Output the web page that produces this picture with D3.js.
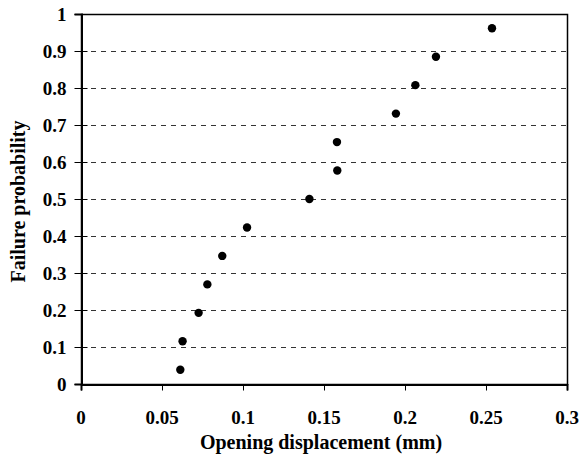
<!DOCTYPE html>
<html>
<head>
<meta charset="utf-8">
<script src="https://cdn.jsdelivr.net/npm/d3@7"></script>
<style>
html, body { margin: 0; padding: 0; background: #fff; }
svg { display: block; }
text { font-family: "Liberation Serif", "Times New Roman", serif; font-weight: bold; fill: #000; }
</style>
</head>
<body>
<svg id="chart" width="584" height="457"></svg>
<script>
const displacement = [0.0613, 0.0627, 0.0726, 0.0780, 0.0872, 0.1025, 0.1410, 0.1582, 0.1580, 0.1944, 0.2064, 0.2191, 0.2537];
const probability  = [0.0385, 0.1154, 0.1923, 0.2692, 0.3462, 0.4231, 0.5000, 0.5769, 0.6538, 0.7308, 0.8077, 0.8846, 0.9615];
const xTicks = [0, 0.05, 0.1, 0.15, 0.2, 0.25, 0.3];
const yTicks = [0, 0.1, 0.2, 0.3, 0.4, 0.5, 0.6, 0.7, 0.8, 0.9, 1];
const xTitle = "Opening displacement (mm)";
const yTitle = "Failure probability";

(function () {
const svg = d3.select("#chart");
const pL = 81, pR = 567, pT = 14, pB = 384;
const x = d3.scaleLinear().domain([0, 0.3]).range([pL, pR]);
const y = d3.scaleLinear().domain([0, 1]).range([pB, pT]);
const fs = 19;

// gridlines
svg.append("g").selectAll("line").data(yTicks.filter(d => d > 0 && d < 1)).join("line")
  .attr("x1", pL).attr("x2", pR)
  .attr("y1", d => y(d) + 0.5).attr("y2", d => y(d) + 0.5)
  .attr("stroke", "#333").attr("stroke-width", 1).attr("stroke-dasharray", "5,5");

// frame
svg.append("rect").attr("x", pL + 0.5).attr("y", pT + 0.5)
  .attr("width", pR - pL).attr("height", pB - pT)
  .attr("fill", "none").attr("stroke", "#000").attr("stroke-width", 1.5);

// axes
const xAxis = svg.append("g").attr("transform", `translate(0,${pB + 0.5})`)
  .call(d3.axisBottom(x).tickValues(xTicks).tickSize(6).tickFormat(() => ""));
const yAxis = svg.append("g").attr("transform", `translate(${pL + 0.5},0)`)
  .call(d3.axisLeft(y).tickValues(yTicks).tickSize(7).tickFormat(() => ""));
yAxis.selectAll(".tick line").attr("x2", -7).attr("x1", 6);
[xAxis, yAxis].forEach(g => {
  g.select(".domain").attr("stroke", "#000").attr("stroke-width", 2);
  g.selectAll(".tick line").attr("stroke", "#000").attr("stroke-width", 1);
});

// tick labels
svg.append("g").selectAll("text").data(xTicks).join("text")
  .attr("x", d => x(d)).attr("y", 424)
  .attr("text-anchor", "middle").attr("font-size", fs)
  .text(d => String(d));
svg.append("g").selectAll("text").data(yTicks).join("text")
  .attr("x", 66.5).attr("y", d => y(d) + 6.5)
  .attr("text-anchor", "end").attr("font-size", fs)
  .text(d => String(d));

// axis titles
svg.append("text")
  .attr("x", 321).attr("y", 448.5)
  .attr("text-anchor", "middle").attr("font-size", 20)
  .text(xTitle);
svg.append("text")
  .attr("transform", `translate(25,${(pT + pB) / 2 + 2.5}) rotate(-90)`)
  .attr("text-anchor", "middle").attr("font-size", 20)
  .text(yTitle);

// points
svg.append("g").selectAll("circle").data(displacement.map((d, i) => [d, probability[i]])).join("circle")
  .attr("cx", d => x(d[0])).attr("cy", d => y(d[1]))
  .attr("r", 4.2).attr("fill", "#000");
})();
</script>
</body>
</html>
